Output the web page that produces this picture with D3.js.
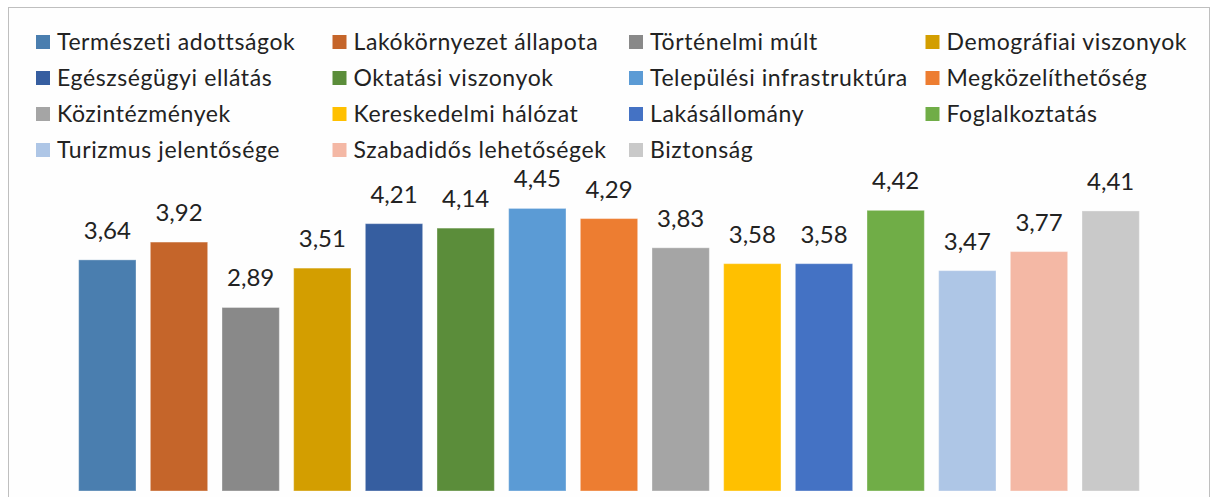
<!DOCTYPE html>
<html lang="hu">
  <head>
    <meta charset="UTF-8" />
    <title>Tényezők átlagos értékelése</title>
    <script src="https://d3js.org/d3.v7.min.js"></script>
    <style>
      * {
        margin: 0;
        padding: 0;
        box-sizing: border-box;
      }

      body {
        background: #ffffff;
        font-family: "Lato", "Open Sans", sans-serif;
        overflow: hidden;
      }

      .legend-text {
        font-size: 23px;
        letter-spacing: 0.6px;
        fill: #222222;
      }

      .value-label {
        font-size: 24px;
        fill: #222222;
        text-anchor: middle;
      }
    </style>
  </head>

  <body>
    <div id="chart"></div>

    <script>
      const categories = [
        "Természeti adottságok",
        "Lakókörnyezet állapota",
        "Történelmi múlt",
        "Demográfiai viszonyok",
        "Egészségügyi ellátás",
        "Oktatási viszonyok",
        "Települési infrastruktúra",
        "Megközelíthetőség",
        "Közintézmények",
        "Kereskedelmi hálózat",
        "Lakásállomány",
        "Foglalkoztatás",
        "Turizmus jelentősége",
        "Szabadidős lehetőségek",
        "Biztonság",
      ];

      const values = [
        3.64, 3.92, 2.89, 3.51, 4.21, 4.14, 4.45, 4.29, 3.83, 3.58, 3.58, 4.42,
        3.47, 3.77, 4.41,
      ];

      const colors = [
        "#4a7eaf",
        "#c5652a",
        "#898989",
        "#d39e00",
        "#365ea0",
        "#5b8d3a",
        "#5b9bd5",
        "#ed7d31",
        "#a5a5a5",
        "#ffc000",
        "#4472c4",
        "#70ad47",
        "#aec6e6",
        "#f4b8a5",
        "#c9c9c9",
      ];

      const W = 1211,
        H = 497;

      const svg = d3
        .select("#chart")
        .append("svg")
        .attr("width", W)
        .attr("height", H);

      // chart frame (bottom edge falls outside the picture)
      svg
        .append("rect")
        .attr("x", 8.5)
        .attr("y", 7.5)
        .attr("width", 1201)
        .attr("height", 520)
        .attr("fill", "#fefefe")
        .attr("stroke", "#bfbfbf")
        .attr("stroke-width", 1);

      // legend: 4 columns
      const legend = svg
        .append("g")
        .selectAll("g")
        .data(categories)
        .enter()
        .append("g")
        .attr(
          "transform",
          (d, i) => `translate(${36 + (i % 4) * 296.5}, ${42 + Math.floor(i / 4) * 36})`
        );

      legend
        .append("rect")
        .attr("x", 0)
        .attr("y", -7)
        .attr("width", 14)
        .attr("height", 14)
        .attr("fill", (d, i) => colors[i]);

      legend
        .append("text")
        .attr("class", "legend-text")
        .attr("x", 21)
        .attr("dy", "0.35em")
        .text((d) => d);

      // bars
      const x = d3
        .scaleBand()
        .domain(categories)
        .range([71.5, 1146.5])
        .paddingInner(0.2)
        .paddingOuter(0.1);

      const y = d3.scaleLinear().domain([0, 5]).range([491, 173.5]);

      svg
        .append("g")
        .selectAll("rect")
        .data(categories)
        .enter()
        .append("rect")
        .attr("x", (d) => x(d))
        .attr("width", x.bandwidth())
        .attr("y", (d, i) => y(values[i]))
        .attr("height", (d, i) => y(0) - y(values[i]))
        .attr("fill", (d, i) => colors[i])
        .attr("stroke", "#ffffff")
        .attr("stroke-opacity", 0.35)
        .attr("stroke-width", 1);

      svg
        .append("g")
        .selectAll("text")
        .data(categories)
        .enter()
        .append("text")
        .attr("class", "value-label")
        .attr("x", (d) => x(d) + x.bandwidth() / 2)
        .attr("y", (d, i) => y(values[i]) - 21)
        .text((d, i) => values[i].toFixed(2).replace(".", ","));
    </script>
  </body>
</html>
